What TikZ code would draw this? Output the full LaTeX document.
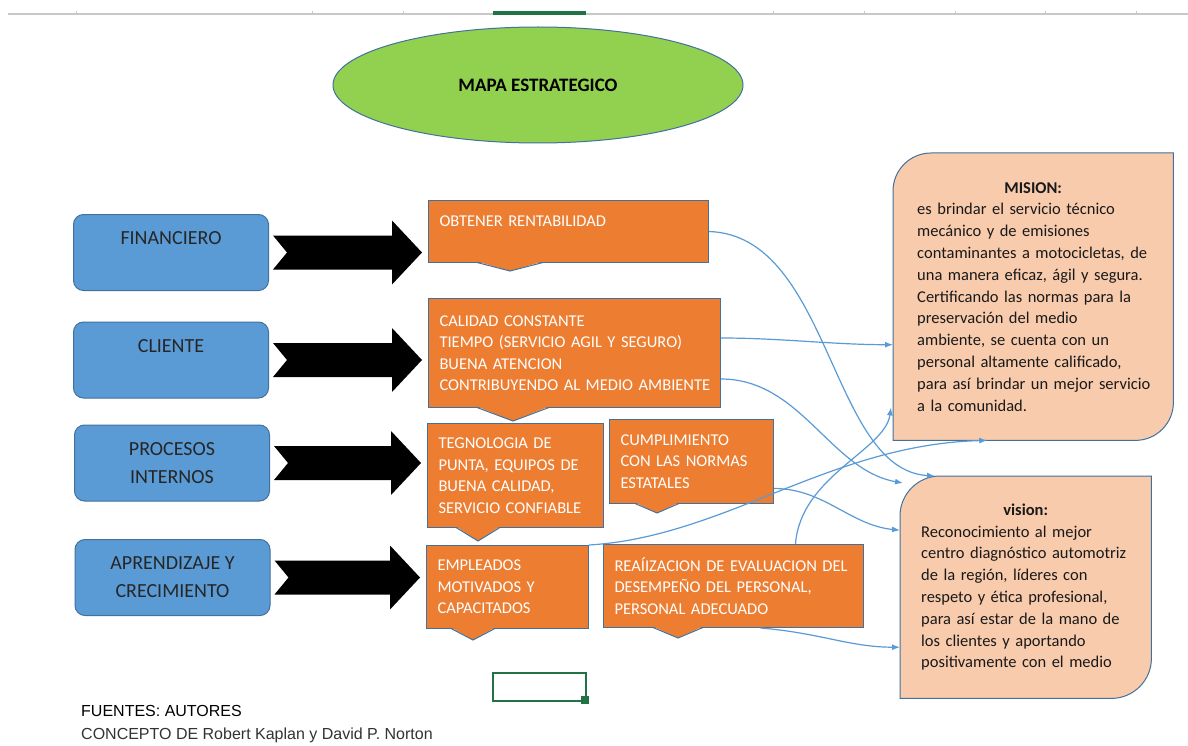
\documentclass[tikz,border=0pt]{standalone}
\usepackage{fontspec}
\setmainfont{Carlito}
\newfontfamily\arialfont{Liberation Sans}
\usetikzlibrary{shapes.geometric,arrows.meta,backgrounds,calc}

\definecolor{verdemapa}{HTML}{92D050}
\definecolor{azulcaja}{HTML}{5B9BD5}
\definecolor{bordeazul}{HTML}{41719C}
\definecolor{naranja}{HTML}{ED7D31}
\definecolor{salmon}{HTML}{F8CBAD}
\definecolor{verdeexcel}{HTML}{217346}
\definecolor{rejilla}{HTML}{C8C8C8}

\tikzset{
  titulo/.style={ellipse, draw=bordeazul, line width=1pt, fill=verdemapa,
    minimum width=410pt, minimum height=116pt,
    font=\bfseries\fontsize{19}{23}\selectfont},
  perspectiva/.style={draw=bordeazul, line width=1pt, fill=azulcaja,
    rounded corners=10pt, minimum width=195pt, minimum height=76pt,
    align=center, text=black!85, font=\fontsize{20}{28}\selectfont},
  objetivo/.style={draw=bordeazul, line width=1pt, fill=naranja,
    anchor=north west, inner xsep=11pt, align=left, text=white,
    font=\fontsize{16.5}{21.5}\selectfont},
  cuadro/.style={anchor=north west, text=black!90,
    execute at begin node=\setlength{\parindent}{0pt},
    font=\fontsize{16.5}{21.8}\selectfont},
  enlace/.style={draw=azulcaja, line width=1.2pt,
    -{Latex[length=8pt,width=6pt]}},
}

\newcommand\flechanegra[2]{%
  \fill let \p1=(#1.east), \p2=(#2.west) in
    (\x1+4pt,\y1+17pt) -- (\x2-36pt,\y1+17pt) -- (\x2-36pt,\y1+32pt)
    -- (\x2-6pt,\y1) -- (\x2-36pt,\y1-32pt) -- (\x2-36pt,\y1-17pt)
    -- (\x1+4pt,\y1-17pt) -- (\x1+18pt,\y1) -- cycle;}

\newcommand\puntero[4]{%
  \fill[naranja] ([xshift=#2pt-#3pt,yshift=1.5pt]#1.south west)
    -- ([xshift=#2pt,yshift=-#4pt]#1.south west)
    -- ([xshift=#2pt+#3pt,yshift=1.5pt]#1.south west) -- cycle;
  \draw[bordeazul, line width=1pt] ([xshift=#2pt-#3pt,yshift=0.5pt]#1.south west)
    -- ([xshift=#2pt,yshift=-#4pt]#1.south west)
    -- ([xshift=#2pt+#3pt,yshift=0.5pt]#1.south west);}

\begin{document}
\begin{tikzpicture}[x=1pt,y=-1pt]
  \begin{scope}[on background layer]
    \fill[white] (0,0) rectangle (1188,746);
  \end{scope}
  \useasboundingbox (0,0) rectangle (1188,746);

  \draw[rejilla, line width=1.5pt] (8,14) -- (1188,14);
  \foreach \x in {76,312,403,773,864,955,1045,1136}
    \draw[rejilla, line width=0.8pt] (\x,11) -- (\x,14);
  \fill[verdeexcel] (493,11) rectangle (586,15);

  \node[titulo] (mapa) at (538,85) {MAPA ESTRATEGICO};

  \node[perspectiva] (fin) at (171,252.5) {FINANCIERO\\ \mbox{}};
  \node[perspectiva] (cli) at (171,360) {CLIENTE\\ \mbox{}};
  \node[perspectiva] (pro) at (172,463) {PROCESOS\\ INTERNOS};
  \node[perspectiva] (apr) at (172.5,577.5) {APRENDIZAJE Y\\ CRECIMIENTO};

  \node[objetivo, text width=258pt, minimum height=62pt] (obtener) at (428,200)
    {OBTENER RENTABILIDAD\\ \mbox{}};
  \node[objetivo, text width=270pt, minimum height=109pt] (calidad) at (428,298)
    {CALIDAD CONSTANTE\\ \mbox{TIEMPO (SERVICIO AGIL Y SEGURO)}\\ BUENA ATENCION\\
     \mbox{CONTRIBUYENDO AL MEDIO AMBIENTE}};
  \node[objetivo, text width=154pt, minimum height=104pt] (tegnologia) at (427,423)
    {TEGNOLOGIA DE\\ PUNTA, EQUIPOS DE\\ BUENA CALIDAD,\\ \mbox{SERVICIO CONFIABLE}};
  \node[objetivo, text width=142pt, minimum height=84pt] (cumplimiento) at (609,419)
    {CUMPLIMIENTO\\ CON LAS NORMAS\\ ESTATALES};
  \node[objetivo, text width=140pt, minimum height=83pt] (empleados) at (426,545)
    {EMPLEADOS\\ MOTIVADOS Y\\ CAPACITADOS};
  \node[objetivo, text width=238pt, minimum height=83pt] (realizacion) at (603,544)
    {\mbox{REAÍIZACION DE EVALUACION DEL}\\ DESEMPEÑO DEL PERSONAL,\\ PERSONAL ADECUADO};

  \puntero{obtener}{82}{33}{8}
  \puntero{calidad}{85}{36}{13}
  \puntero{tegnologia}{51}{22}{13}
  \puntero{cumplimiento}{48}{22}{9}
  \puntero{empleados}{47}{22}{11}
  \puntero{realizacion}{75}{25}{10}

  \flechanegra{fin}{obtener}
  \flechanegra{cli}{calidad}
  \flechanegra{pro}{tegnologia}
  \flechanegra{apr}{empleados}

  \node[cuadro, text width=232pt, inner xsep=24pt, minimum height=287pt] (mision) at (893,153)
    {{\centering\bfseries MISION:\par}\raggedright
     es brindar el servicio técnico\\ mecánico y de emisiones\\
     \mbox{contaminantes a motocicletas, de}\\ \mbox{una manera eficaz, ágil y segura.}\\
     Certificando las normas para la\\ preservación del medio\\
     ambiente, se cuenta con un\\ \mbox{personal altamente calificado,}\\
     \mbox{para así brindar un mejor servicio}\\ a la comunidad.};
  \node[cuadro, text width=209pt, inner xsep=21pt, minimum height=222pt] (vision) at (900,476)
    {{\centering\bfseries vision:\par}\raggedright
     Reconocimiento al mejor\\ \mbox{centro diagnóstico automotriz}\\
     de la región, líderes con\\ respeto y ética profesional,\\
     para así estar de la mano de\\ los clientes y aportando\\
     positivamente con el medio};
  \begin{scope}[on background layer]
    \filldraw[draw=bordeazul, fill=salmon, line width=1pt] (mision.south west)
      -- ([yshift=-38pt]mision.north west) arc[start angle=180, end angle=90, radius=38pt]
      -- (mision.north east) -- ([yshift=38pt]mision.south east)
      arc[start angle=0, end angle=-90, radius=38pt] -- cycle;
    \filldraw[draw=bordeazul, fill=salmon, line width=1pt] (vision.south west)
      -- ([yshift=-40pt]vision.north west) arc[start angle=180, end angle=90, radius=40pt]
      -- (vision.north east) -- ([yshift=40pt]vision.south east)
      arc[start angle=0, end angle=-90, radius=40pt] -- cycle;
  \end{scope}

  \draw[enlace] (obtener.east) .. controls +(122,4) and +(-105,-6) .. ([xshift=35pt]vision.north west);
  \draw[enlace] ([yshift=15pt]calidad.east) .. controls +(60,0) and +(-60,0) .. ([yshift=-48pt]mision.west);
  \draw[enlace] ([yshift=-26pt]calidad.east) .. controls +(80,0) and +(-73,-13) .. ([xshift=3pt,yshift=-7pt]vision.north west);
  \draw[enlace] ([yshift=-27pt]cumplimiento.east) .. controls +(50,0) and +(-50,-5) .. ([yshift=57pt]vision.west);
  \draw[enlace] (empleados.north east) .. controls +(135,-8) and +(-157,4) .. ([xshift=-46pt]mision.south);
  \draw[enlace] ([xshift=62pt]realizacion.north) .. controls +(5,-68) and +(-6,43) .. ([xshift=-2pt,yshift=33pt]mision.south west);
  \draw[enlace] ([xshift=27pt]realizacion.south) .. controls +(60,5) and +(-50,0) .. ([yshift=-60pt]vision.west);

  \draw[verdeexcel, line width=2pt] (493,673) rectangle (586,701);
  \fill[verdeexcel] (581,696) rectangle (589,704);

  \node[anchor=west, inner sep=0pt, font=\arialfont\fontsize{16}{19}\selectfont] (fuentes) at (81,711) {FUENTES: AUTORES};
  \node[anchor=west, inner sep=0pt, text=black!80, font=\arialfont\fontsize{16}{19}\selectfont] (concepto) at (81,735) {CONCEPTO DE Robert Kaplan y David P. Norton};
\end{tikzpicture}
\end{document}
